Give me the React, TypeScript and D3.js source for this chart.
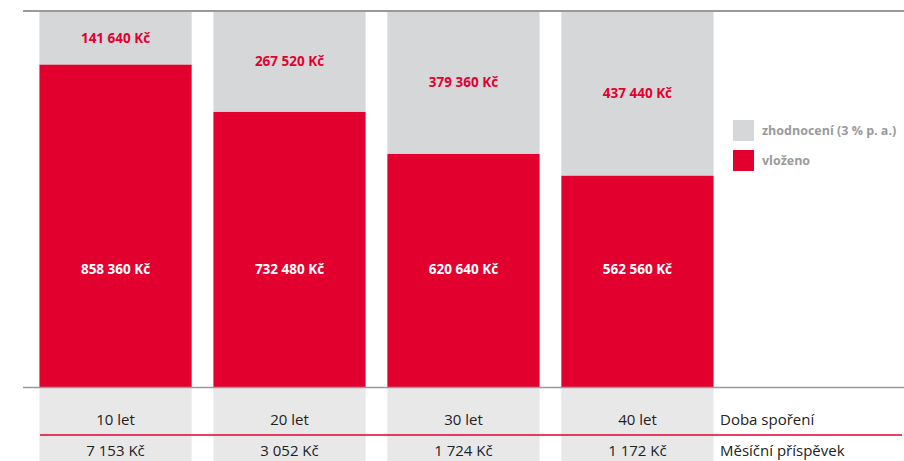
import React from "react";
import * as d3 from "d3";

const categories = ["10 let", "20 let", "30 let", "40 let"];
const invested = [858360, 732480, 620640, 562560];
const growth = [141640, 267520, 379360, 437440];
const monthly = ["7 153 Kč", "3 052 Kč", "1 724 Kč", "1 172 Kč"];
const legendLabels = ["zhodnocení (3 % p. a.)", "vloženo"];
const rowLabels = ["Doba spoření", "Měsíční příspěvek"];

const W = 904;
const H = 461;
const RED = "#e2002f";
const GREY = "#d6d7d9";
const CELL = "#e8e8e8";
const FONT = "'Open Sans', Lato, sans-serif";

const fmt = (v: number) =>
  String(v).replace(/\B(?=(\d{3})+(?!\d))/g, " ") + " Kč";

export default function App() {
  const x = d3.scaleBand<string>().domain(categories).range([29, 724]).paddingInner(0.125).paddingOuter(0.06);
  const y = d3.scaleLinear().domain([0, 1000000]).range([387, 11.5]);
  const bw = x.bandwidth();

  return (
    <svg width={W} height={H} style={{ position: "absolute", left: 0, top: 0, display: "block" }} fontFamily={FONT}>
      <rect width={W} height={H} fill="#fff" />
      {categories.map((c, i) => {
        const x0 = x(c)!;
        const total = invested[i] + growth[i];
        return (
          <g key={c}>
            <rect x={x0} y={y(total)} width={bw} height={y(invested[i]) - y(total)} fill={GREY} />
            <rect x={x0} y={y(invested[i])} width={bw} height={y(0) - y(invested[i])} fill={RED} />
            <text x={x0 + bw / 2} y={(y(total) + y(invested[i])) / 2} dy="0.35em" textAnchor="middle"
              fontSize={13.5} fontWeight={700} fill={RED}>{fmt(growth[i])}</text>
            <text x={x0 + bw / 2} y={269} dy="0.35em" textAnchor="middle"
              fontSize={13.5} fontWeight={700} fill="#fff">{fmt(invested[i])}</text>
            <rect x={x0} y={388} width={bw} height={H - 388} fill={CELL} />
            <text x={x0 + bw / 2} y={420} dy="0.35em" textAnchor="middle" fontSize={15} fill="#222">{c}</text>
            <text x={x0 + bw / 2} y={451} dy="0.35em" textAnchor="middle" fontSize={15} fill="#222">{monthly[i]}</text>
          </g>
        );
      })}
      <line x1={23} x2={904} y1={11} y2={11} stroke="#9a9a9a" strokeWidth={2} />
      <line x1={23} x2={904} y1={387.5} y2={387.5} stroke="#9a9a9a" strokeWidth={1.5} />
      <line x1={40} x2={902} y1={435} y2={435} stroke={RED} strokeWidth={1.5} />
      <text x={720} y={420} dy="0.35em" fontSize={15} fill="#222">{rowLabels[0]}</text>
      <text x={720} y={451} dy="0.35em" fontSize={15} fill="#222">{rowLabels[1]}</text>
      {legendLabels.map((l, i) => (
        <g key={l}>
          <rect x={733} y={120 + i * 30} width={21} height={21} fill={i === 0 ? GREY : RED} />
          <text x={762} y={130.5 + i * 30} dy="0.35em" fontSize={12.5} fontWeight={700} fill="#9a9a9a">{l}</text>
        </g>
      ))}
    </svg>
  );
}
